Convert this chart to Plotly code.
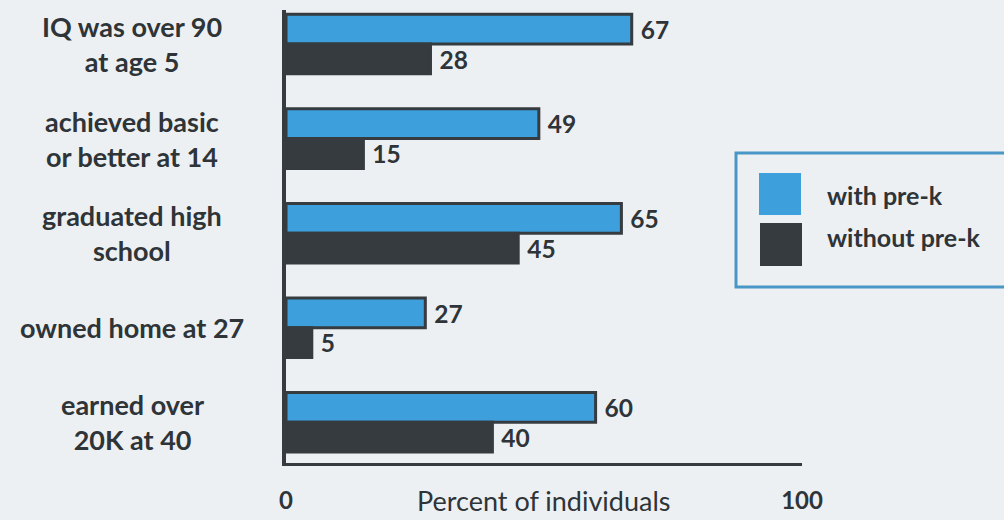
import plotly.graph_objects as go

categories = ["IQ was over 90<br>at age 5",
              "achieved basic<br>or better at 14",
              "graduated high<br>school",
              "owned home at 27",
              "earned over<br>20K at 40"]
with_prek = [67, 49, 65, 27, 60]
without_prek = [28, 15, 45, 5, 40]
series_names = ["with pre-k", "without pre-k"]
tick_vals = [0, 100]
tick_text = ["0", "100"]
axis_title = "Percent of individuals"

BG = "#edf0f3"
BLUE = "#3d9fdb"
DARK = "#353b3f"
TXT = "#2e3437"
FONT = "Lato, 'Open Sans', sans-serif"

W, H = 1004, 520
ML, MR, MT, MB = 286, 202, 10, 57
PW, PH = W - ML - MR, H - MT - MB

def px(x):
    return (x - ML) / PW

def py(y):
    return (H - MB - y) / PH

ids = list(range(len(categories)))
val_font = dict(family=FONT, size=28, color=TXT, weight="bold")

fig = go.Figure()
fig.add_trace(go.Bar(
    y=ids, x=with_prek, orientation="h", name=series_names[0],
    marker=dict(color=BLUE, line=dict(color=DARK, width=3)),
    texttemplate=" %{x}", textposition="outside",
    textfont=val_font, cliponaxis=False, showlegend=False))
fig.add_trace(go.Bar(
    y=ids, x=without_prek, orientation="h", name=series_names[1],
    marker=dict(color=DARK, line=dict(color=DARK, width=3)),
    texttemplate=" %{x}", textposition="outside",
    textfont=val_font, cliponaxis=False, showlegend=False))

annotations = []
for i, c in enumerate(categories):
    annotations.append(dict(
        x=px(132), xref="paper", y=i, yref="y", text=c, showarrow=False,
        xanchor="center", yanchor="middle", align="center",
        font=dict(family=FONT, size=27, color=TXT, weight="bold")))

annotations.append(dict(
    x=50, xref="x", y=py(500), yref="paper", text=axis_title,
    showarrow=False, xanchor="center", yanchor="middle",
    font=dict(family=FONT, size=27, color=TXT)))

# legend drawn with shapes/annotations
shapes = [
    dict(type="rect", xref="paper", yref="paper",
         x0=px(736), x1=px(1012), y0=py(153), y1=py(287),
         line=dict(color="#4a96c6", width=3), fillcolor=BG, layer="above"),
    dict(type="rect", xref="paper", yref="paper",
         x0=px(759), x1=px(801), y0=py(173), y1=py(215),
         line=dict(width=0), fillcolor=BLUE, layer="above"),
    dict(type="rect", xref="paper", yref="paper",
         x0=px(760), x1=px(802), y0=py(223), y1=py(266),
         line=dict(width=0), fillcolor=DARK, layer="above"),
]
for name, yc in zip(series_names, [195, 237]):
    annotations.append(dict(
        x=px(825), xref="paper", y=py(yc), yref="paper", text=name,
        showarrow=False, xanchor="left", yanchor="middle",
        font=dict(family=FONT, size=25, color=TXT, weight="bold")))

fig.update_layout(
    width=W, height=H,
    margin=dict(l=ML, r=MR, t=MT, b=MB, pad=0, autoexpand=False),
    paper_bgcolor=BG, plot_bgcolor=BG,
    barmode="group", bargap=0.37, bargroupgap=0.0,
    annotations=annotations, shapes=shapes,
    xaxis=dict(range=[0, 100], tickvals=tick_vals, ticktext=tick_text,
               automargin=False,
               showgrid=False, zeroline=False, showline=True,
               linecolor=DARK, linewidth=3, ticks="", ticklabelstandoff=14,
               tickfont=dict(family=FONT, size=24, color=TXT, weight="bold")),
    yaxis=dict(range=[4.43, -0.36], showticklabels=False, showgrid=False,
               automargin=False,
               zeroline=False, showline=True, linecolor=DARK, linewidth=4,
               ticks=""),
)

fig.write_html("out.html", config={"displayModeBar": False},
               post_script="document.body.style.margin='0';document.body.style.background='%s';" % BG)
